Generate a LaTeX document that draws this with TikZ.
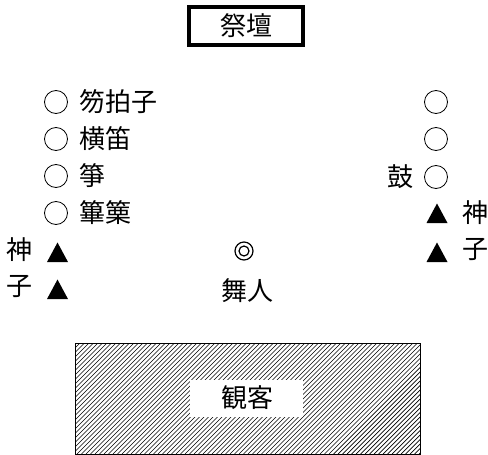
\documentclass[tikz,border=0pt]{standalone}
\usepackage{fontspec}
\setmainfont{Noto Sans CJK JP}
\begin{document}
\begin{tikzpicture}[x=1pt,y=-1pt,
  lbl/.style={inner sep=0pt, font=\fontsize{26}{30}\selectfont},
  seat/.style={circle, draw, line width=0.8pt, minimum size=23pt, inner sep=0pt},
  tri/.style={fill=black},
  hatch/.style={line width=0.7pt}]
\useasboundingbox (0,0) rectangle (488,455);
% altar
\node[draw, line width=3.5pt, minimum width=114pt, minimum height=38pt, inner sep=0pt] (altar) at (246,26) {};
\node[lbl] (altart) at (246,26) {祭壇};
% left column
\node[seat] (c1) at (56,102) {};
\node[seat] (c2) at (56,139) {};
\node[seat] (c3) at (56,176) {};
\node[seat] (c4) at (56,213) {};
\node[lbl, anchor=west] (t1) at (79,102) {笏拍子};
\node[lbl, anchor=west] (t2) at (79,139) {横笛};
\node[lbl, anchor=west] (t3) at (79,176) {箏};
\node[lbl, anchor=west] (t4) at (79,213) {篳篥};
\node[lbl, anchor=west] (k1) at (6,250) {神};
\node[lbl, anchor=west] (k2) at (6,287) {子};
\coordinate (lt1) at (57.5,252);
\coordinate (lt2) at (57.5,289);
\fill[tri] ([xshift=-10.5pt,yshift=-10pt]lt1) -- ([yshift=9.5pt]lt1) -- ([xshift=10.5pt,yshift=-10pt]lt1) -- cycle;
\fill[tri] ([xshift=-10.5pt,yshift=-10pt]lt2) -- ([yshift=9.5pt]lt2) -- ([xshift=10.5pt,yshift=-10pt]lt2) -- cycle;
% right column
\node[seat] (d1) at (436,102) {};
\node[seat] (d2) at (436,139) {};
\node[seat] (d3) at (436,177) {};
\node[lbl, anchor=east] (drum) at (414,177) {鼓};
\coordinate (rt1) at (437,213);
\coordinate (rt2) at (437,252);
\fill[tri] ([xshift=-10.5pt,yshift=-10pt]rt1) -- ([yshift=9.5pt]rt1) -- ([xshift=10.5pt,yshift=-10pt]rt1) -- cycle;
\fill[tri] ([xshift=-10.5pt,yshift=-10pt]rt2) -- ([yshift=9.5pt]rt2) -- ([xshift=10.5pt,yshift=-10pt]rt2) -- cycle;
\node[lbl, anchor=west] (m1) at (462,213) {神};
\node[lbl, anchor=west] (m2) at (462,250) {子};
% dancer
\node[circle, draw, line width=1.2pt, minimum size=18pt, inner sep=0pt] (dan) at (244,251) {};
\node[circle, draw, line width=1.2pt, minimum size=10pt, inner sep=0pt] (danin) at (244,251) {};
\node[lbl] (dant) at (247,291) {舞人};
% audience
\begin{scope}
\clip (75,343) rectangle (420,454);
\foreach \k in {0,...,110} {
  \draw[hatch] ({-40+4.5*\k},454) -- ({71+4.5*\k},343);
}
\end{scope}
\draw[line width=1pt] (75,343) rectangle (420,454);
\node[fill=white, minimum width=113pt, minimum height=37pt, inner sep=0pt] (aud) at (246.5,398.5) {};
\node[lbl] (audt) at (247,398) {観客};
\end{tikzpicture}
\end{document}
